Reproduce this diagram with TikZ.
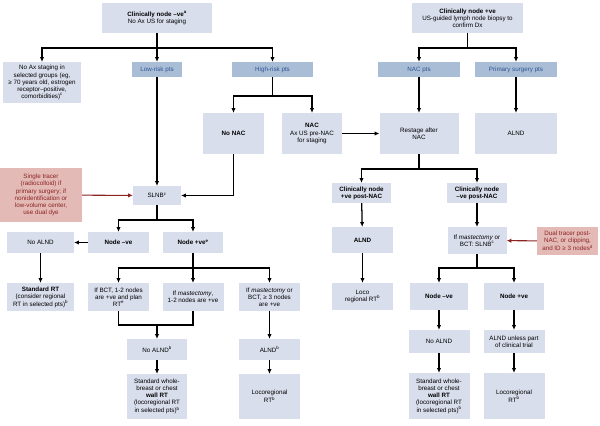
\documentclass[tikz,border=0pt]{standalone}
\usepackage{fontspec}
\setmainfont{Liberation Sans}
\usepackage{tikz}
\usetikzlibrary{arrows.meta}
\definecolor{boxblue}{RGB}{217,222,236}
\definecolor{darkblue}{RGB}{170,189,215}
\definecolor{bluetext}{RGB}{45,85,145}
\definecolor{redfill}{RGB}{227,186,182}
\definecolor{redtext}{RGB}{140,35,35}

\begin{document}
\begin{tikzpicture}[x=0.05cm, y=-0.05cm,
    font=\fontsize{8.9}{10.1}\selectfont,
    box/.style={fill=boxblue, align=center, inner sep=1pt},
    riskbox/.style={fill=darkblue, text=bluetext, align=center, inner sep=1pt, minimum height=0.75cm},
    notebox/.style={fill=redfill, text=redtext, align=center, inner sep=1pt},
    arr/.style={-{Latex[length=2.4mm,width=2.2mm]}, line width=1.8pt},
    trunk/.style={line width=1.8pt},
    redarr/.style={-{Latex[length=2.4mm,width=2.2mm]}, line width=1.5pt, redtext}]
        \useasboundingbox (0,0) rectangle (600,426);
        % top row
        \node[box, minimum width=5.5cm, minimum height=1.5cm] (topneg) at (157,18) {\textbf{Clinically node --ve\textsuperscript{a}}\\No Ax US for staging};
        \node[box, minimum width=5.55cm, minimum height=1.5cm] (toppos) at (467.5,18) {\textbf{Clinically node +ve}\\US-guided lymph node biopsy to\\confirm Dx};
        % risk groups
        \node[box, minimum width=3.9cm, minimum height=2.05cm] (noax) at (42,82.5) {No Ax staging in\\selected groups (eg,\\≥ 70 years old, estrogen\\receptor--positive,\\comorbidities)\textsuperscript{c}};
        \node[riskbox, minimum width=2.5cm] (low) at (157,69.5) {Low-risk pts};
        \node[riskbox, minimum width=4.05cm] (high) at (272.5,69.5) {High-risk pts};
        \node[riskbox, minimum width=4.1cm] (nacpts) at (419,69.5) {NAC pts};
        \node[riskbox, minimum width=4.1cm] (prim) at (516,69.5) {Primary surgery pts};
        % third row
        \node[box, minimum width=3.05cm, minimum height=2.05cm] (nonac) at (233.5,133.5) {\textbf{No NAC}};
        \node[box, minimum width=3.0cm, minimum height=2.05cm] (nac) at (312,133.5) {\textbf{NAC}\\Ax US pre-NAC\\for staging};
        \node[box, minimum width=3.95cm, minimum height=2.05cm] (restage) at (419,133.5) {Restage after\\NAC};
        \node[box, minimum width=4.1cm, minimum height=2.05cm] (alndA) at (516,133.5) {ALND};
        % SLNB and post-NAC
        \node[box, minimum width=2.4cm, minimum height=0.95cm] (slnb) at (157,195.5) {SLNB\textsuperscript{c}};
        \node[notebox, minimum width=4.1cm, minimum height=2.7cm] (tracer) at (41,195) {Single tracer\\(radiocolloid) if\\primary surgery; if\\nonidentification or\\low-volume center,\\use dual dye};
        \node[box, minimum width=2.95cm, minimum height=1.0cm] (cpos) at (361.5,193) {\textbf{Clinically node}\\\textbf{+ve post-NAC}};
        \node[box, minimum width=3.0cm, minimum height=1.0cm] (cneg) at (477,193) {\textbf{Clinically node}\\\textbf{--ve post-NAC}};
        % node status
        \node[box, minimum width=3.35cm, minimum height=1.05cm] (noalndA) at (40.5,242.5) {No ALND};
        \node[box, minimum width=3.05cm, minimum height=1.05cm] (nnegA) at (118.5,242.5) {\textbf{Node --ve}};
        \node[box, minimum width=3.0cm, minimum height=1.05cm] (nposA) at (193,242.5) {\textbf{Node +ve\textsuperscript{e}}};
        \node[box, minimum width=3.05cm, minimum height=1.3cm] (alndB) at (362.5,240) {\textbf{ALND}};
        \node[box, minimum width=2.95cm, minimum height=1.35cm] (slnbB) at (477,240.5) {If \textit{mastectomy} or\\BCT: SLNB\textsuperscript{c}};
        \node[notebox, minimum width=3.05cm, minimum height=1.4cm] (dual) at (567.5,241) {Dual tracer post-\\NAC, or clipping,\\and ID ≥ 3 nodes\textsuperscript{d}};
        % fifth row
        \node[box, minimum width=3.35cm, minimum height=1.4cm] (stdrt) at (40.5,297) {\textbf{Standard RT}\\(consider regional\\RT in selected pts)\textsuperscript{b}};
        \node[box, minimum width=3.05cm, minimum height=1.4cm] (bct) at (118.5,297) {If BCT, 1-2 nodes\\are +ve and plan\\RT\textsuperscript{e}};
        \node[box, minimum width=3.05cm, minimum height=1.4cm] (mast) at (193,297) {If \textit{mastectomy},\\1-2 nodes are +ve};
        \node[box, minimum width=3.05cm, minimum height=1.4cm] (three) at (269.5,297) {If \textit{mastectomy} or\\BCT, ≥ 3 nodes\\are +ve};
        \node[box, minimum width=3.05cm, minimum height=1.35cm] (locoA) at (362.5,296.5) {Loco\\regional RT\textsuperscript{b}};
        \node[box, minimum width=2.9cm, minimum height=1.35cm] (nnegB) at (439,296.5) {\textbf{Node --ve}};
        \node[box, minimum width=3.0cm, minimum height=1.35cm] (nposB) at (514,296.5) {\textbf{Node +ve}};
        % axillary treatment
        \node[box, minimum width=3.0cm, minimum height=1.05cm] (noalndB) at (157,349.5) {No ALND\textsuperscript{b}};
        \node[box, minimum width=3.05cm, minimum height=1.05cm] (alndC) at (269.5,349.5) {ALND\textsuperscript{b}};
        \node[box, minimum width=3.05cm, minimum height=1.15cm] (noalndC) at (439,341.5) {No ALND};
        \node[box, minimum width=3.05cm, minimum height=1.15cm] (trial) at (514,341.5) {ALND unless part\\of clinical trial};
        % radiotherapy
        \node[box, minimum width=3.0cm, minimum height=2.25cm] (wbA) at (157,396.5) {Standard whole-\\breast or chest\\\textbf{wall RT}\\(locoregional RT\\in selected pts)\textsuperscript{b}};
        \node[box, minimum width=3.05cm, minimum height=2.25cm] (lrA) at (269.5,396.5) {Locoregional\\RT\textsuperscript{b}};
        \node[box, minimum width=3.05cm, minimum height=2.3cm] (wbB) at (439,396) {Standard whole-\\breast or chest\\\textbf{wall RT}\\(locoregional RT\\in selected pts)\textsuperscript{b}};
        \node[box, minimum width=3.05cm, minimum height=2.3cm] (lrB) at (514,396) {Locoregional\\RT\textsuperscript{b}};
        % branch points
        \coordinate (J1) at (157,48);
        \coordinate (J2) at (272.5,96);
        \coordinate (J3) at (467.5,48);
        \coordinate (J4) at (419,169);
        \coordinate (J5) at (157,220);
        \coordinate (J6) at (193,268);
        \coordinate (J7) at (157,325);
        \coordinate (J8) at (477,268);
        % clinically node -ve
        \draw[trunk] (topneg) -- (J1);
        \draw[arr] (J1) -| (noax.north);
        \draw[arr] (J1) -- (low);
        \draw[arr] (J1) -| (high.north);
        \draw[trunk] (high) -- (J2);
        \draw[arr] (J2) -| (nonac.north);
        \draw[arr] (J2) -| (nac.north);
        \draw[arr] (low) -- (slnb);
        \draw[arr] (nonac.south) |- (slnb.east);
        \draw[redarr] (tracer) -- (slnb);
        \draw[trunk] (slnb) -- (J5);
        \draw[arr] (J5) -| (nnegA.north);
        \draw[arr] (J5) -| (nposA.north);
        \draw[arr] (nnegA) -- (noalndA);
        \draw[arr] (noalndA) -- (stdrt);
        \draw[trunk] (nposA) -- (J6);
        \draw[arr] (J6) -| (bct.north);
        \draw[arr] (J6) -- (mast);
        \draw[arr] (J6) -| (three.north);
        \draw[trunk] (bct.south) |- (J7) -| (mast.south);
        \draw[arr] (J7) -- (noalndB);
        \draw[arr] (noalndB) -- (wbA);
        \draw[arr] (three) -- (alndC);
        \draw[arr] (alndC) -- (lrA);
        % clinically node +ve
        \draw[trunk] (toppos) -- (J3);
        \draw[arr] (J3) -| (nacpts.north);
        \draw[arr] (J3) -| (prim.north);
        \draw[arr] (nacpts) -- (restage);
        \draw[arr] (prim) -- (alndA);
        \draw[arr] (nac) -- (restage);
        \draw[trunk] (restage) -- (J4);
        \draw[arr] (J4) -| (cpos.north);
        \draw[arr] (J4) -| (cneg.north);
        \draw[arr] (cpos) -- (alndB);
        \draw[arr] (alndB) -- (locoA);
        \draw[arr] (cneg) -- (slnbB);
        \draw[redarr] (dual) -- (slnbB);
        \draw[trunk] (slnbB) -- (J8);
        \draw[arr] (J8) -| (nnegB.north);
        \draw[arr] (J8) -| (nposB.north);
        \draw[arr] (nnegB) -- (noalndC);
        \draw[arr] (noalndC) -- (wbB);
        \draw[arr] (nposB) -- (trial);
        \draw[arr] (trial) -- (lrB);
\end{tikzpicture}
\end{document}
